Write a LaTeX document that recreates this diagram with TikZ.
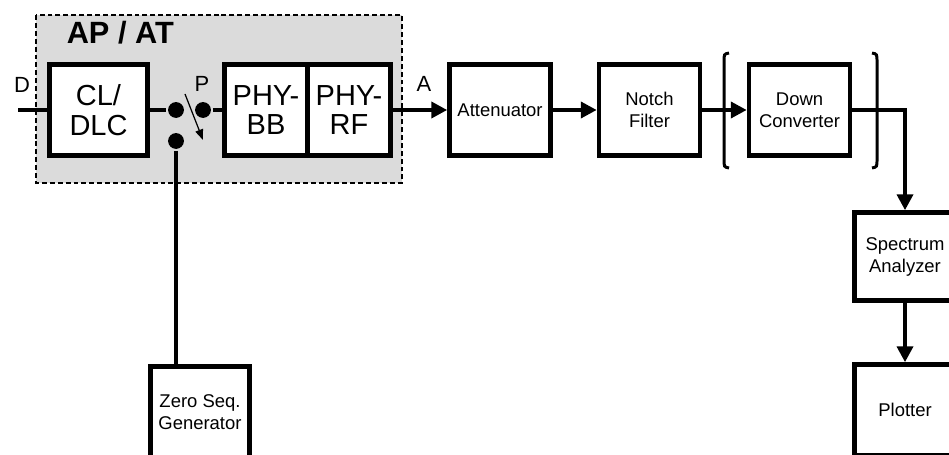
\documentclass[tikz,border=0pt]{standalone}
\usepackage{fontspec}
\setmainfont{Liberation Sans}
\usetikzlibrary{arrows.meta}

\begin{document}
\begin{tikzpicture}[x=0.02cm, y=-0.02cm, line width=2.2pt,
    block/.style={draw, line width=2.6pt, fill=white, align=center, inner sep=0pt},
    bigblock/.style={block, minimum height=1.82cm, font=\fontsize{16.5}{17}\selectfont},
    smallblock/.style={block, minimum width=2.02cm, minimum height=1.82cm, font=\fontsize{10.5}{12.5}\selectfont},
    dot/.style={circle, fill, inner sep=0pt, minimum size=9pt},
    lbl/.style={font=\fontsize{12.5}{14}\selectfont},
    flow/.style={-{Triangle[length=9pt, width=9pt]}}]
  \useasboundingbox (0,0) rectangle (949,455);

  % AP / AT frame
  \fill[black!14] (36,15) rectangle (402,183);
  \draw[line width=0.8pt, dash pattern=on 2.8pt off 1.7pt] (36,15) rectangle (402,183);
  \node[anchor=base west, font=\bfseries\fontsize{17.5}{19}\selectfont] (apat) at (59,44) {AP / AT};

  % Blocks
  \node[bigblock, minimum width=1.96cm] (cl) at (98.5,110) {CL/\\DLC};
  \node[bigblock, minimum width=1.66cm] (bb) at (266,110) {PHY-\\BB};
  \node[bigblock, minimum width=1.66cm] (rf) at (349,110) {PHY-\\RF};
  \node[smallblock] (att) at (500,110) {Attenuator};
  \node[smallblock] (nf) at (649.5,110) {Notch\\Filter};
  \node[smallblock] (dc) at (799.5,110) {Down\\Converter};
  \node[smallblock, minimum height=1.76cm] (sa) at (905,256.5) {Spectrum\\Analyzer};
  \node[smallblock] (pl) at (905,410) {Plotter};
  \node[smallblock, minimum width=1.98cm] (zs) at (200,412) {Zero Seq.\\Generator};

  % Switch
  \node[dot] (s1) at (176,110) {};
  \node[dot] (s2) at (203,110) {};
  \node[dot] (s3) at (176,141) {};
  \coordinate (sw1) at (185,94);
  \coordinate (sw2) at (203,140);
  \coordinate (din) at (18,110);

  % Labels
  \node[lbl] (dlab) at (22,85) {D};
  \node[lbl] (plab) at (202,84) {P};
  \node[lbl] (alab) at (424,84) {A};

  % Brackets
  \draw[line width=1.7pt] (729,53) .. controls (724,54) .. (724,62) -- (724,159) .. controls (724,167) .. (729,168);
  \draw[line width=1.7pt] (872,53) .. controls (877,54) .. (877,62) -- (877,159) .. controls (877,167) .. (872,168);

  % Connectors
  \draw (din) -- (cl);
  \draw (cl) -- (s1);
  \draw (s2) -- (bb);
  \draw (s3) -- (s3 |- zs.north);
  \draw[line width=0.7pt, -{Triangle[length=6pt, width=4.5pt]}] (sw1) -- (sw2);
  \draw[flow] (rf) -- (att);
  \draw[flow] (att) -- (nf);
  \draw[flow] (nf) -- (dc);
  \draw[flow] (dc) -| (sa);
  \draw[flow] (sa) -- (pl);
\end{tikzpicture}
\end{document}
